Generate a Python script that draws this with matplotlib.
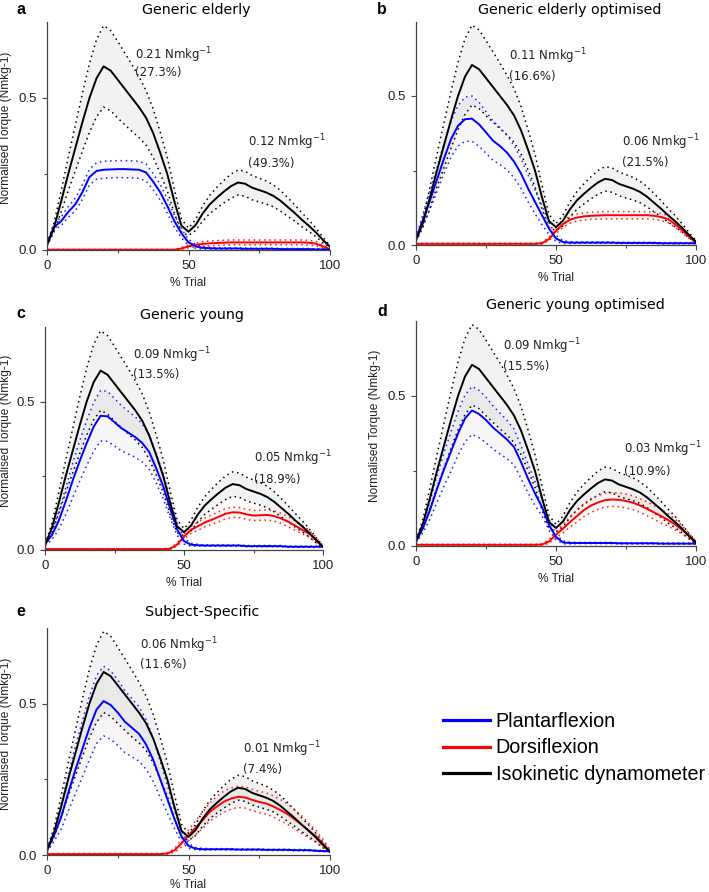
import numpy as np
import matplotlib
matplotlib.use("Agg")
import matplotlib.pyplot as plt
from matplotlib.lines import Line2D

# % of trial, every 2.5 %
trial = np.arange(0, 100.1, 2.5)

# isokinetic dynamometer (same in every panel), mean and sd
dyn_mean = [0.016, 0.075, 0.16, 0.25, 0.335, 0.42, 0.50, 0.565, 0.604, 0.59, 0.56,
            0.53, 0.50, 0.47, 0.435, 0.385, 0.32, 0.25, 0.16, 0.08, 0.06,
            0.082, 0.12, 0.15, 0.172, 0.192, 0.21, 0.222, 0.218, 0.205, 0.197,
            0.189, 0.178, 0.162, 0.142, 0.122, 0.10, 0.08, 0.058, 0.033, 0.011]
dyn_sd = [0.004, 0.015, 0.035, 0.055, 0.075, 0.095, 0.113, 0.127, 0.134, 0.132, 0.126,
          0.118, 0.11, 0.10, 0.09, 0.08, 0.068, 0.055, 0.04, 0.022, 0.012,
          0.018, 0.025, 0.03, 0.034, 0.037, 0.04, 0.041, 0.041, 0.04, 0.039,
          0.038, 0.036, 0.034, 0.031, 0.027, 0.023, 0.019, 0.014, 0.009, 0.004]

# a - generic elderly
pf_a = [0.02, 0.075, 0.095, 0.125, 0.15, 0.19, 0.24, 0.26, 0.264, 0.265, 0.266, 0.266,
        0.265, 0.264, 0.255, 0.225, 0.19, 0.145, 0.095, 0.055, 0.025, 0.012, 0.007,
        0.006] + [0.005] * 4 + [0.004] * 5 + [0.003] * 5 + [0.002] * 3
pf_a_sd = [0.004, 0.01, 0.014, 0.018, 0.021, 0.024, 0.026, 0.027, 0.028, 0.028, 0.028,
           0.028, 0.028, 0.028, 0.028, 0.027, 0.026, 0.024, 0.02, 0.015, 0.01, 0.006,
           0.004, 0.003] + [0.002] * 17
df_a = [0.001] * 19 + [0.005, 0.012, 0.017, 0.02, 0.022, 0.023, 0.024, 0.025] + \
    [0.025] * 10 + [0.024, 0.021, 0.012, 0.003]
df_a_sd = [0.001] * 19 + [0.003, 0.005, 0.006, 0.007] + [0.008] * 14 + \
    [0.008, 0.007, 0.005, 0.002]

# b - generic elderly optimised
pf_b = [0.02, 0.085, 0.15, 0.22, 0.29, 0.355, 0.40, 0.422, 0.424, 0.405, 0.378, 0.35,
        0.332, 0.31, 0.28, 0.24, 0.19, 0.145, 0.10, 0.055, 0.022, 0.01, 0.008] + \
    [0.008] * 6 + [0.007] * 6 + [0.006] * 6
pf_b_sd = [0.005, 0.02, 0.03, 0.04, 0.05, 0.06, 0.068, 0.074, 0.076, 0.074, 0.07, 0.066,
           0.062, 0.058, 0.054, 0.05, 0.045, 0.04, 0.032, 0.02, 0.01, 0.005, 0.003] + \
    [0.002] * 18
df_b = [0.004] * 18 + [0.006, 0.02, 0.048, 0.07, 0.085, 0.092, 0.096, 0.098, 0.099] + \
    [0.1] * 7 + [0.098, 0.094, 0.087, 0.07, 0.05, 0.028, 0.008]
df_b_sd = [0.002] * 18 + [0.003, 0.006, 0.009, 0.011] + [0.012] * 15 + \
    [0.011, 0.009, 0.006, 0.003]

# c - generic young
pf_c = [0.02, 0.05, 0.10, 0.165, 0.235, 0.30, 0.36, 0.415, 0.452, 0.45, 0.43, 0.41,
        0.395, 0.38, 0.36, 0.33, 0.275, 0.215, 0.14, 0.07, 0.03, 0.018, 0.016] + \
    [0.015] * 6 + [0.013] * 6 + [0.011] * 6
pf_c_sd = [0.005, 0.015, 0.03, 0.045, 0.058, 0.068, 0.076, 0.082, 0.085, 0.084, 0.08,
           0.076, 0.072, 0.068, 0.064, 0.058, 0.05, 0.042, 0.032, 0.02, 0.01, 0.005,
           0.003] + [0.002] * 18
df_c = [0.003] * 18 + [0.004, 0.018, 0.045, 0.068, 0.08, 0.093, 0.102, 0.112, 0.122,
                       0.127, 0.126, 0.12, 0.116, 0.117, 0.118, 0.114, 0.106, 0.095,
                       0.082, 0.068, 0.055, 0.035, 0.01]
df_c_sd = [0.001] * 18 + [0.002, 0.005, 0.009, 0.012, 0.014, 0.015, 0.016, 0.017] + \
    [0.017] * 10 + [0.016, 0.014, 0.012, 0.008, 0.003]

# d - generic young optimised
pf_d = [0.015, 0.06, 0.12, 0.19, 0.255, 0.315, 0.375, 0.425, 0.452, 0.44, 0.42, 0.395,
        0.375, 0.355, 0.33, 0.28, 0.225, 0.175, 0.13, 0.07, 0.03, 0.012, 0.01] + \
    [0.01] * 6 + [0.009] * 6 + [0.008] * 6
pf_d_sd = [0.005, 0.015, 0.03, 0.044, 0.056, 0.066, 0.073, 0.078, 0.08, 0.079, 0.076,
           0.072, 0.068, 0.064, 0.06, 0.055, 0.048, 0.04, 0.03, 0.018, 0.009, 0.005,
           0.003] + [0.002] * 18
df_d = [0.004] * 18 + [0.005, 0.015, 0.038, 0.058, 0.08, 0.1, 0.12, 0.135, 0.145,
                       0.153, 0.155, 0.154, 0.15, 0.144, 0.135, 0.124, 0.112, 0.1,
                       0.087, 0.072, 0.054, 0.034, 0.012]
df_d_sd = [0.002] * 18 + [0.003, 0.006, 0.01, 0.014, 0.017, 0.02, 0.022, 0.023] + \
    [0.023] * 10 + [0.021, 0.018, 0.014, 0.009, 0.004]

# e - subject-specific
pf_e = [0.015, 0.065, 0.125, 0.205, 0.28, 0.35, 0.42, 0.48, 0.508, 0.495, 0.47, 0.44,
        0.42, 0.40, 0.365, 0.315, 0.25, 0.185, 0.12, 0.062, 0.03, 0.021, 0.019] + \
    [0.019] * 4 + [0.018] * 4 + [0.017] * 4 + [0.016] * 3 + [0.014, 0.013, 0.012]
pf_e_sd = [0.005, 0.02, 0.04, 0.06, 0.078, 0.093, 0.105, 0.112, 0.115, 0.113, 0.108,
           0.102, 0.096, 0.09, 0.082, 0.072, 0.06, 0.046, 0.032, 0.018, 0.008, 0.004,
           0.003] + [0.002] * 18
df_e = [0.003] * 17 + [0.005, 0.015, 0.038, 0.065, 0.09, 0.115, 0.142, 0.16, 0.176,
                       0.186, 0.192, 0.19, 0.182, 0.175, 0.17, 0.16, 0.148, 0.135,
                       0.118, 0.1, 0.08, 0.062, 0.038, 0.011]
df_e_sd = [0.002] * 17 + [0.003, 0.006, 0.012, 0.018, 0.023, 0.027, 0.03, 0.033] + \
    [0.035] * 9 + [0.034, 0.032, 0.029, 0.025, 0.02, 0.014, 0.006]

titles = ["Generic elderly", "Generic elderly optimised", "Generic young",
          "Generic young optimised", "Subject-Specific"]
letters = ["a", "b", "c", "d", "e"]
err_peak = ["0.21", "0.11", "0.09", "0.09", "0.06"]
pct_peak = ["(27.3%)", "(16.6%)", "(13.5%)", "(15.5%)", "(11.6%)"]
err_late = ["0.12", "0.06", "0.05", "0.03", "0.01"]
pct_late = ["(49.3%)", "(21.5%)", "(18.9%)", "(10.9%)", "(7.4%)"]

pf_all = [(pf_a, pf_a_sd), (pf_b, pf_b_sd), (pf_c, pf_c_sd), (pf_d, pf_d_sd), (pf_e, pf_e_sd)]
df_all = [(df_a, df_a_sd), (df_b, df_b_sd), (df_c, df_c_sd), (df_d, df_d_sd), (df_e, df_e_sd)]

# layout in pixels: x of 0, x of 100, y of 0, px per unit
W, H = 709, 892
boxes = [(47, 330, 250, 304), (416, 696, 245, 298), (45, 323, 550, 297),
         (416, 696, 546, 300), (47, 330, 855, 303)]
title_pos = [(196, 10), (570, 10), (192, 315), (575, 305), (202, 612)]
letter_pos = [(21, 9), (382, 9), (21, 313), (382, 311), (21, 612)]
ylab_x = [6, None, 6, 375, 6]
ann_pos = [((31.2, 0.64, 0.584), (71.2, 0.356, 0.286)),
           ((33.2, 0.632, 0.566), (73.7, 0.345, 0.276)),
           ((31.8, 0.655, 0.592), (75.3, 0.308, 0.238)),
           ((31.0, 0.666, 0.598), (74.2, 0.323, 0.249)),
           ((32.7, 0.692, 0.628), (69.2, 0.35, 0.282))]

ARIAL = "Liberation Sans"
fig = plt.figure(figsize=(W / 100, H / 100), dpi=100)

dot = (0, (1, 2.4))
dm = np.array(dyn_mean)
ds = np.array(dyn_sd)

for i in range(5):
    x0, x1, y0, ppu = boxes[i]
    top = y0 - 0.75 * ppu
    ax = fig.add_axes([x0 / W, 1 - y0 / H, (x1 - x0) / W, (y0 - top) / H])

    # black band
    ax.fill_between(trial, dm - ds, dm + ds, color="k", alpha=0.05, lw=0)
    ax.plot(trial, dm + ds, color="k", ls=dot, lw=1.1)
    ax.plot(trial, dm - ds, color="k", ls=dot, lw=1.1)

    # plantarflexion
    m, s = np.array(pf_all[i][0]), np.array(pf_all[i][1])
    ax.fill_between(trial, m - s, m + s, color="k", alpha=0.035, lw=0)
    ax.plot(trial, m + s, color="#2020ff", ls=dot, lw=1.1)
    ax.plot(trial, m - s, color="#2020ff", ls=dot, lw=1.1)

    # dorsiflexion
    m2, s2 = np.array(df_all[i][0]), np.array(df_all[i][1])
    ax.fill_between(trial, m2 - s2, m2 + s2, color="k", alpha=0.035, lw=0)
    ax.plot(trial, m2 + s2, color="#ff2020", ls=dot, lw=1.1)
    ax.plot(trial, m2 - s2, color="#ff2020", ls=dot, lw=1.1)

    ax.plot(trial, m2, color="#ff0000", lw=1.4)
    ax.plot(trial, m, color="#0000ff", lw=1.4)
    ax.plot(trial, dm, color="k", lw=1.4)

    ax.set_xlim(0, 100)
    ax.set_ylim(0, 0.75)
    ax.set_xticks([0, 50, 100])
    ax.set_xticks([25, 75], minor=True)
    ax.set_yticks([0, 0.5])
    ax.set_yticks([0.25], minor=True)
    ax.set_yticklabels(["0.0", "0.5"])
    for sp in ["top", "right"]:
        ax.spines[sp].set_visible(False)
    for sp in ["left", "bottom"]:
        ax.spines[sp].set_color("#444444")
        ax.spines[sp].set_linewidth(0.9)
    ax.tick_params(which="major", length=3.5, width=0.8, color="#444444", labelsize=9.5)
    ax.tick_params(which="minor", length=2, width=0.8, color="#444444")
    for lab in ax.get_xticklabels() + ax.get_yticklabels():
        lab.set_fontfamily(ARIAL)
        lab.set_color("#222222")

    (ax1, ya, yb), (ax2, yc, yd) = ann_pos[i]
    ax.text(ax1, ya, err_peak[i] + " Nmkg$^{-1}$", fontsize=8.5, va="center", color="#222222")
    ax.text(ax1, yb, pct_peak[i], fontsize=8.5, va="center", color="#222222")
    ax.text(ax2, yc, err_late[i] + " Nmkg$^{-1}$", fontsize=8.5, va="center", color="#222222")
    ax.text(ax2, yd, pct_late[i], fontsize=8.5, va="center", color="#222222")

    tx, ty = title_pos[i]
    fig.text(tx / W, 1 - ty / H, titles[i], fontsize=10.3, ha="center", va="center")
    lx, ly = letter_pos[i]
    fig.text(lx / W, 1 - ly / H, letters[i], fontsize=11.5, fontweight="bold",
             family=ARIAL, ha="center", va="center")
    fig.text((x0 + x1) / 2 / W, 1 - min(y0 + 33, H - 7) / H, "% Trial", fontsize=8.6,
             family=ARIAL, ha="center", va="center", color="#222222")
    if ylab_x[i] is not None:
        fig.text(ylab_x[i] / W, 1 - (y0 + top - 16) / 2 / H, "Normalised Torque (Nmkg-1)",
                 fontsize=8.6, family=ARIAL, rotation=90, ha="center", va="center",
                 color="#222222")

handles = [Line2D([], [], color="#0000ff", lw=2.3),
           Line2D([], [], color="#ff0000", lw=2.3),
           Line2D([], [], color="k", lw=2.3)]
fig.legend(handles, ["Plantarflexion", "Dorsiflexion", "Isokinetic dynamometer"],
           loc="upper left", bbox_to_anchor=(443 / W, 1 - 712 / H), frameon=False,
           prop={"family": ARIAL, "size": 14.2}, handlelength=2.4, handletextpad=0.28,
           labelspacing=0.38, borderpad=0, borderaxespad=0)

fig.savefig("out.png", dpi=100)
